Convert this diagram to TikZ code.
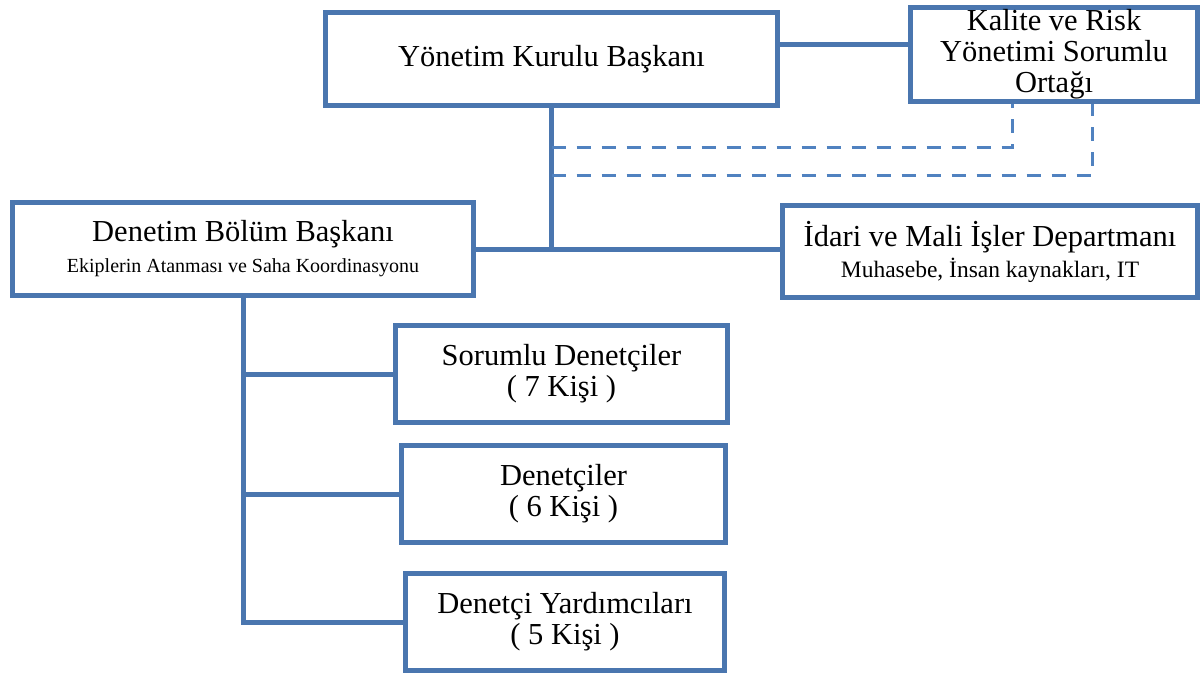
\documentclass[tikz,border=0pt]{standalone}
\usepackage{fontspec}
\setmainfont{Liberation Serif}
\usetikzlibrary{positioning}
\definecolor{orgblue}{RGB}{74,118,175}
\definecolor{dashblue}{RGB}{80,130,192}
\tikzset{
        unit/.style={draw=orgblue, line width=5pt, fill=white, align=center, inner sep=0pt, font=\fontsize{30.5}{31}\selectfont}, % every box of the chart
        link/.style={draw=orgblue, line width=5pt}, % solid connectors
        dashlink/.style={draw=dashblue, line width=3pt, dash pattern=on 14pt off 11pt}, % dotted-line reporting
    }
\newcommand{\subline}[1]{{\fontsize{20}{27}\selectfont #1}}

\begin{document}
\begin{tikzpicture}[x=1pt, y=-1pt]
    \useasboundingbox (0,0) rectangle (1204,673);
    % boxes
    \node[unit, minimum width=452pt, minimum height=93pt] (ykb) at (551.5,59) {Yönetim Kurulu Başkanı};
    \node[unit, minimum width=287pt, minimum height=94pt] (kal) at (1054,54.5) {Kalite ve Risk\\Yönetimi Sorumlu\\Ortağı};
    \node[unit, minimum width=461pt, minimum height=93pt] (dbb) at (243,249) {Denetim Bölüm Başkanı\\\subline{Ekiplerin Atanması ve Saha Koordinasyonu}};
    \node[unit, minimum width=415pt, minimum height=92pt] (idr) at (990,251.5) {İdari ve Mali İşler Departmanı\\{\fontsize{23.5}{27}\selectfont Muhasebe, İnsan kaynakları, IT}};
    \node[unit, minimum width=332pt, minimum height=97pt] (sor) at (561.5,374) {Sorumlu Denetçiler\\( 7 Kişi )};
    \node[unit, minimum width=324pt, minimum height=97pt] (den) at (563.5,494) {Denetçiler\\( 6 Kişi )};
    \node[unit, minimum width=319pt, minimum height=97pt] (yrd) at (565,622) {Denetçi Yardımcıları\\( 5 Kişi )};
    % connectors
    \coordinate (top) at (800,44);
    \coordinate (d1) at (1012,147);
    \coordinate (d2) at (1092,175);
    \draw[link] (ykb.east |- top) -- (kal.west |- top);
    \draw[link] (ykb.south) -- (ykb.south |- dbb.east);
    \draw[link] (dbb.east) -- (idr.west |- dbb.east);
    \draw[dashlink] (ykb.south |- d1) -- (d1) -- (d1 |- kal.south);
    \draw[dashlink] (ykb.south |- d2) -- (d2) -- (d2 |- kal.south);
    \draw[link] (dbb.south) -- (dbb.south |- yrd.west) -- (yrd.west);
    \draw[link] (dbb.south |- sor.west) -- (sor.west);
    \draw[link] (dbb.south |- den.west) -- (den.west);
\end{tikzpicture}
\end{document}
